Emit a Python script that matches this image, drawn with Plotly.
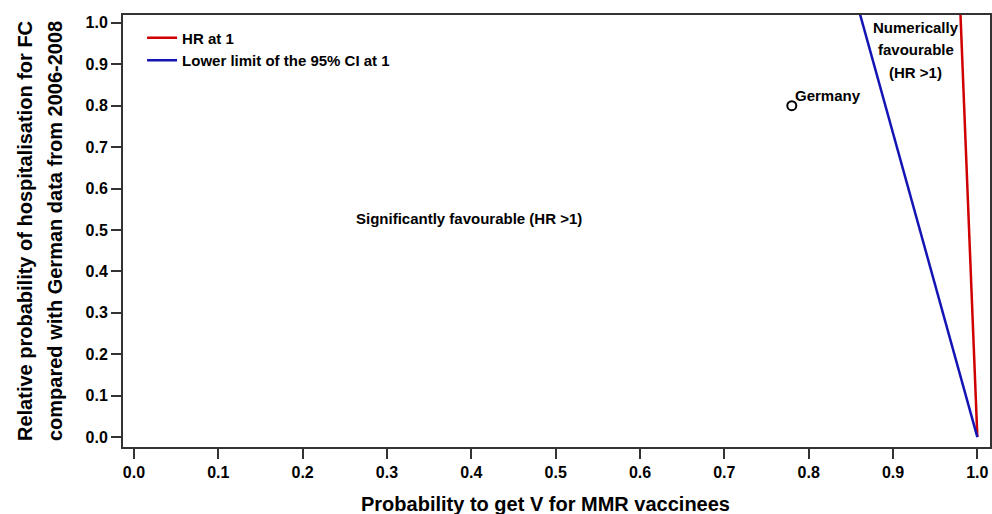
import plotly.graph_objects as go

# Data
hr_x = [1.0, 0.980]
hr_y = [0.0, 1.02]
ci_x = [1.0, 0.861]
ci_y = [0.0, 1.02]
germany_x = [0.78]
germany_y = [0.80]
tick_vals = [0.0, 0.1, 0.2, 0.3, 0.4, 0.5, 0.6, 0.7, 0.8, 0.9, 1.0]
tick_text = ["0.0", "0.1", "0.2", "0.3", "0.4", "0.5", "0.6", "0.7", "0.8", "0.9", "1.0"]
x_title = "Probability to get V for MMR vaccinees"
y_title_lines = ["Relative probability of hospitalisation for FC",
                 "compared with German data from 2006-2008"]
num_fav_lines = ["Numerically", "favourable", "(HR >1)"]
num_fav_y = [0.990, 0.935, 0.879]

FONT = "Liberation Sans, Arial, sans-serif"
AXC = "#333333"

fig = go.Figure()
fig.add_trace(go.Scatter(x=hr_x, y=hr_y, mode="lines", name="<b>HR at 1</b>",
                         line=dict(color="#d00000", width=2.5)))
fig.add_trace(go.Scatter(x=ci_x, y=ci_y, mode="lines", name="<b>Lower limit of the 95% CI at 1</b>",
                         line=dict(color="#1414b4", width=2.5)))
fig.add_trace(go.Scatter(x=germany_x, y=germany_y, mode="markers", showlegend=False,
                         marker=dict(symbol="circle-open", size=9, color="black",
                                     line=dict(width=2, color="black"))))

fig.add_annotation(x=germany_x[0], y=germany_y[0], text="<b>Germany</b>", showarrow=False,
                   xanchor="left", yanchor="bottom", xshift=1, yshift=0,
                   font=dict(size=15, color="black", family=FONT))
fig.add_annotation(x=0.397, y=0.527, text="<b>Significantly favourable (HR >1)</b>", showarrow=False,
                   font=dict(size=15, color="black", family=FONT))
for line, yy in zip(num_fav_lines, num_fav_y):
    fig.add_annotation(x=0.927, y=yy, text="<b>%s</b>" % line, showarrow=False,
                       font=dict(size=15, color="black", family=FONT))

# axis titles placed as annotations for precise placement
fig.add_annotation(xref="paper", yref="paper", x=0.487, y=0, yshift=-57,
                   xanchor="center", yanchor="middle", showarrow=False,
                   text="<b>%s</b>" % x_title, font=dict(size=20, color="black", family=FONT))
for line, shift in zip(y_title_lines, [-98, -68]):
    fig.add_annotation(xref="paper", yref="paper", x=0, y=0.5, xshift=shift,
                       xanchor="center", yanchor="middle", showarrow=False, textangle=-90,
                       text="<b>%s</b>" % line, font=dict(size=20, color="black", family=FONT))

axis_common = dict(showline=True, mirror=True, linecolor=AXC, linewidth=2,
                   ticks="outside", ticklen=10, tickwidth=1.5, tickcolor=AXC,
                   showgrid=False, zeroline=False,
                   tickvals=tick_vals, ticktext=["<b>%s</b>" % t for t in tick_text],
                   tickfont=dict(size=16, color="black", family=FONT))

fig.update_xaxes(range=[-0.013, 1.015], **axis_common)
fig.update_yaxes(range=[-0.024, 1.019], **axis_common)

fig.update_layout(
    width=992, height=514,
    margin=dict(l=123, r=0, t=15, b=67),
    paper_bgcolor="white", plot_bgcolor="white",
    font=dict(family=FONT, color="black"),
    legend=dict(x=0.022, y=0.985, xanchor="left", yanchor="top",
                bgcolor="rgba(0,0,0,0)", font=dict(size=15, color="black", family=FONT),
                tracegroupgap=0),
)

fig.write_html("out.html", config={"displayModeBar": False},
               post_script="document.body.style.margin='0';document.body.style.overflow='hidden';")
